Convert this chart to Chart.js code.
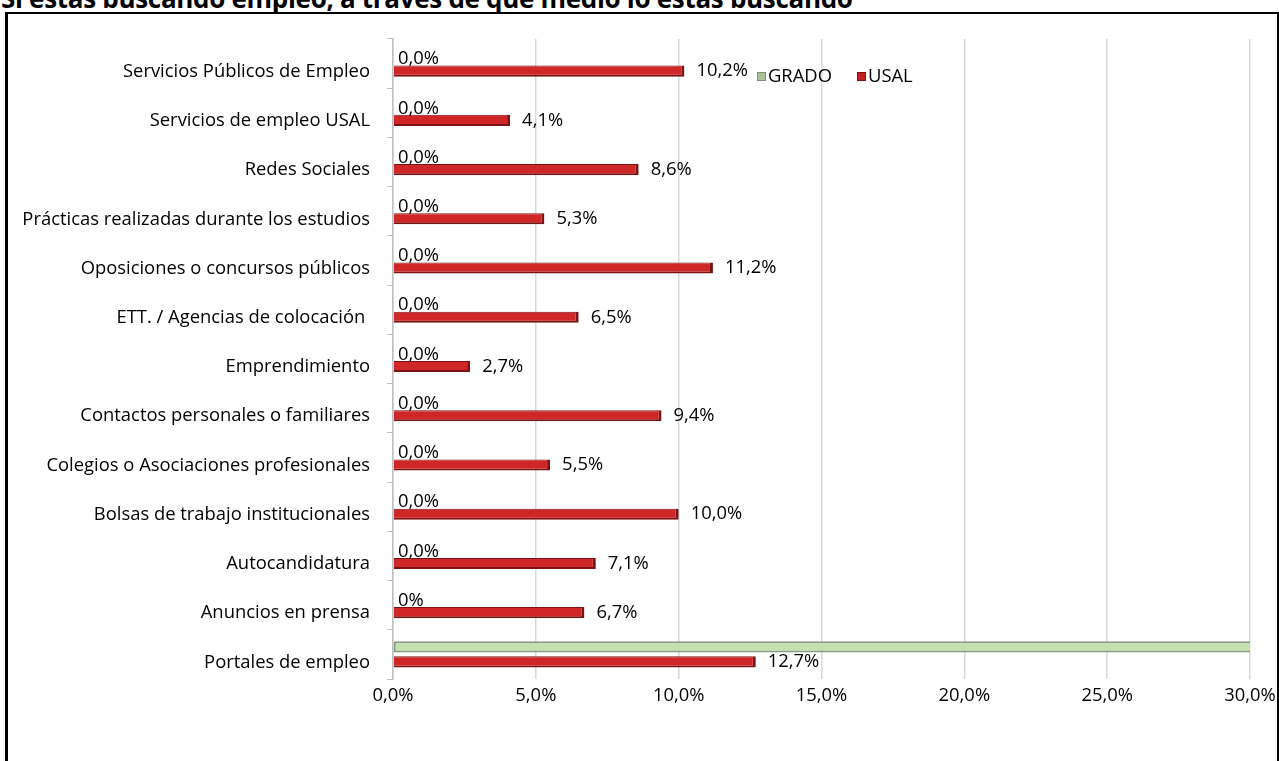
<!DOCTYPE html>
<html>
<head>
<meta charset="utf-8">
<script src="https://cdn.jsdelivr.net/npm/chart.js@4.4.1/dist/chart.umd.min.js"></script>
<style>
  html, body { margin: 0; padding: 0; background: #fff; overflow: hidden; }
  #title { position: absolute; left: 1px; top: -20px; font: bold 26px "Open Sans", sans-serif; color: #000; white-space: nowrap; letter-spacing: -0.3px; }
  #frame { position: absolute; left: 5px; top: 12px; width: 1269px; height: 760px;
           border-left: 3px solid #000; border-top: 2px solid #000; border-right: 2px solid #000; background: #fff; }
  #wrap { position: absolute; left: 0; top: 0; width: 1269px; height: 747px; }
</style>
</head>
<body>
<div id="title">Si estás buscando empleo, a través de qué medio lo estás buscando</div>
<div id="frame"><div id="wrap"><canvas id="chart"></canvas></div></div>
<script>
const categories = [
  "Servicios Públicos de Empleo",
  "Servicios de empleo USAL",
  "Redes Sociales",
  "Prácticas realizadas durante los estudios",
  "Oposiciones o concursos públicos",
  "ETT. / Agencias de colocación ",
  "Emprendimiento",
  "Contactos personales o familiares",
  "Colegios o Asociaciones profesionales",
  "Bolsas de trabajo institucionales",
  "Autocandidatura",
  "Anuncios en prensa",
  "Portales de empleo"
];
const grado = [0, 0, 0, 0, 0, 0, 0, 0, 0, 0, 0, 0, 100];
const gradoLabels = ["0,0%", "0,0%", "0,0%", "0,0%", "0,0%", "0,0%", "0,0%", "0,0%", "0,0%", "0,0%", "0,0%", "0%", null];
const usal = [10.2, 4.1, 8.6, 5.3, 11.2, 6.5, 2.7, 9.4, 5.5, 10.0, 7.1, 6.7, 12.7];
const xTicks = [0, 5, 10, 15, 20, 25, 30];

const FONT = "'Open Sans', sans-serif";
const FSIZE = 18.4;

function pct(v) {
  return v.toFixed(1).replace(".", ",") + "%";
}

const barLabels = {
  id: "barLabels",
  afterDatasetsDraw(chart) {
    const ctx = chart.ctx;
    ctx.save();
    ctx.font = FSIZE + "px " + FONT;
    ctx.fillStyle = "#000";
    ctx.textAlign = "left";
    ctx.textBaseline = "middle";
    chart.getDatasetMeta(0).data.forEach((bar, i) => {
      if (gradoLabels[i]) ctx.fillText(gradoLabels[i], bar.x + 5, bar.y + 3);
    });
    chart.getDatasetMeta(1).data.forEach((bar, i) => {
      ctx.fillText(pct(usal[i]), bar.x + 12, bar.y);
    });

    // legend inside plot area
    const lx = 749, ly = 62;
    ctx.fillStyle = "#a9c49a";
    ctx.fillRect(lx, ly - 4, 9, 9);
    ctx.strokeStyle = "#7f8f78";
    ctx.strokeRect(lx + 0.5, ly - 3.5, 8, 8);
    ctx.fillStyle = "#000";
    ctx.fillText("GRADO", lx + 11, ly + 1);
    ctx.fillStyle = "#c42020";
    ctx.fillRect(lx + 100, ly - 4, 9, 9);
    ctx.strokeStyle = "#7a1414";
    ctx.strokeRect(lx + 100.5, ly - 3.5, 8, 8);
    ctx.fillStyle = "#000";
    ctx.fillText("USAL", lx + 111, ly + 1);
    ctx.restore();
  }
};

new Chart(document.getElementById("chart"), {
  type: "bar",
  data: {
    labels: categories,
    datasets: [
      {
        label: "GRADO",
        data: grado,
        backgroundColor: "#c4e0ae",
        borderColor: "#8a9a80",
        borderWidth: 2,
        borderSkipped: false
      },
      {
        label: "USAL",
        data: usal,
        backgroundColor: "#cf2727",
        borderColor: "#7a1414",
        borderWidth: { top: 1, bottom: 2, right: 3, left: 0 },
        borderSkipped: false
      }
    ]
  },
  options: {
    indexAxis: "y",
    responsive: true,
    maintainAspectRatio: false,
    animation: false,
    layout: { padding: { left: 0, right: 27, top: 25, bottom: 52 } },
    categoryPercentage: 0.61,
    barPercentage: 0.74,
    plugins: {
      legend: { display: false },
      tooltip: { enabled: false }
    },
    scales: {
      x: {
        min: 0,
        max: 30,
        afterBuildTicks(scale) {
          scale.ticks = xTicks.map(v => ({ value: v }));
        },
        afterFit(scale) {
          scale.height = 30;
          scale.paddingLeft = 0;
          scale.paddingRight = 0;
        },
        grid: { color: "#d9d9d9", lineWidth: 1.5, drawTicks: false },
        border: { display: false },
        ticks: {
          padding: 6,
          color: "#000",
          font: { family: FONT, size: FSIZE },
          callback: v => pct(v)
        }
      },
      y: {
        afterFit(scale) {
          scale.width = 385;
          scale.paddingTop = 0;
          scale.paddingBottom = 0;
        },
        grid: { display: true, drawOnChartArea: false, color: "#bfbfbf", tickLength: 6 },
        border: { display: true, color: "#bfbfbf", width: 1.5 },
        ticks: {
          padding: 17,
          labelOffset: 8,
          color: "#000",
          autoSkip: false,
          font: { family: FONT, size: FSIZE }
        }
      }
    }
  },
  plugins: [barLabels]
});
</script>
</body>
</html>
